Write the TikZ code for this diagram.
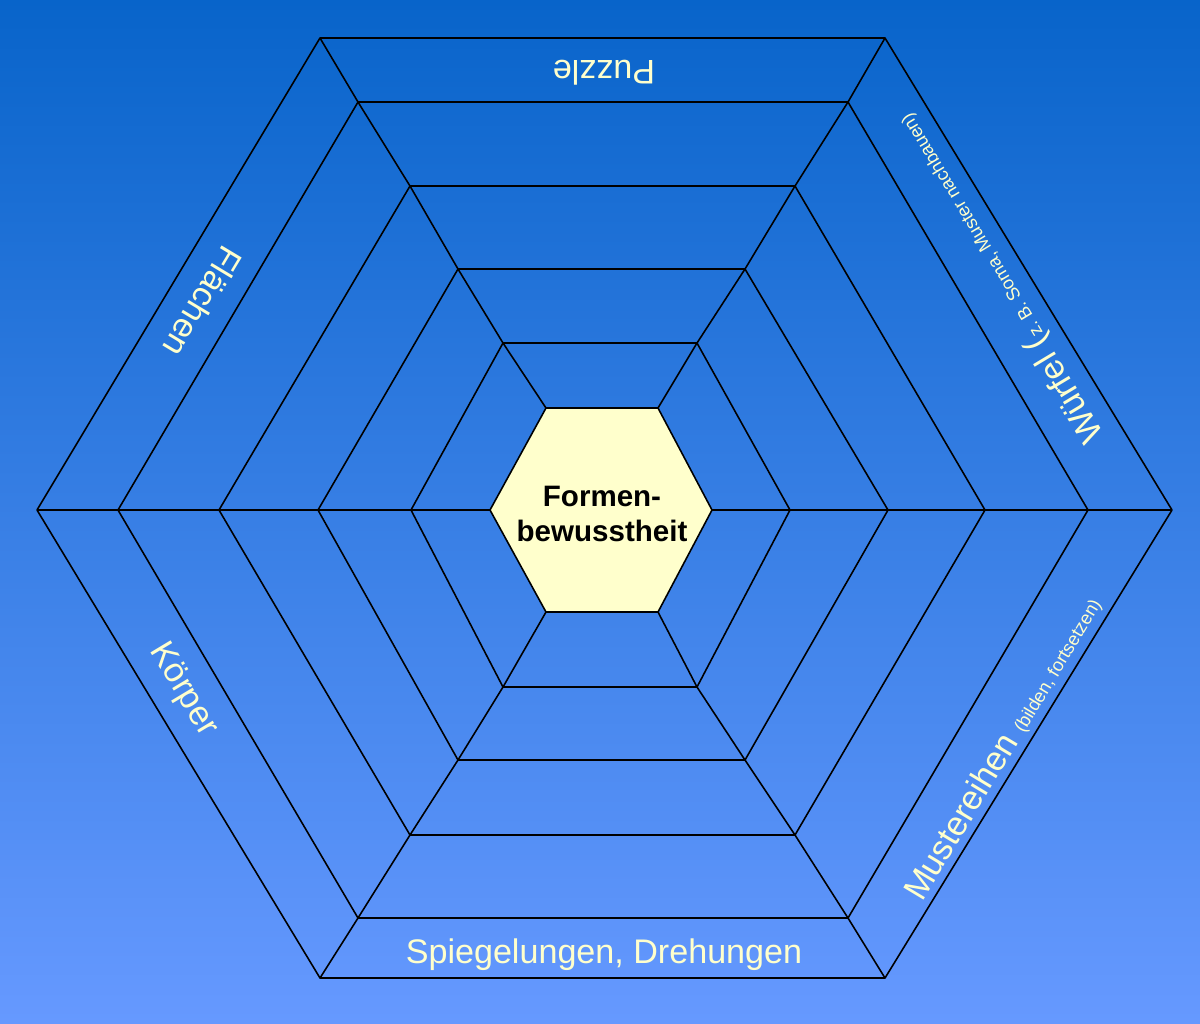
\documentclass[tikz,border=0pt]{standalone}
\usepackage{fontspec}
\setmainfont{Liberation Sans}
\usetikzlibrary{calc}
\definecolor{skytop}{HTML}{0864CA}
\definecolor{skybottom}{HTML}{6699FF}
\definecolor{cream}{HTML}{FFFFCC}
\newcommand{\asidetext}[1]{{\fontsize{5.2}{6}\selectfont #1}}

\begin{document}
\begin{tikzpicture}[x=0.01cm, y=-0.01cm,
    every node/.style={font=\fontsize{9.7}{12}\selectfont, text=cream, inner sep=1pt},
    ring/.style={draw=black, line width=0.45pt, line join=round},
]
% Background
\shade[top color=skytop, bottom color=skybottom] (0,0) rectangle (1200,1023);
\useasboundingbox (0,0) rectangle (1200,1023);

% Ring corners (outer ring 0 to core ring 5)
\foreach \i/\l/\r/\t/\b/\tl/\tr in {0/37/1172/38/978/320/885, 1/118/1088/102/918/358/848,
    2/219/985/186/835/410/795, 3/318/888/269/760/458/745,
    4/411/790/343/687/503/697, 5/490/712/408/612/546/658}{
  \coordinate (L\i) at (\l,510);
  \coordinate (TL\i) at (\tl,\t);
  \coordinate (TR\i) at (\tr,\t);
  \coordinate (R\i) at (\r,510);
  \coordinate (BR\i) at (\tr,\b);
  \coordinate (BL\i) at (\tl,\b);
}

% Rings
\foreach \i in {0,...,4}
  \draw[ring] (L\i) -- (TL\i) -- (TR\i) -- (R\i) -- (BR\i) -- (BL\i) -- cycle;
\draw[ring, fill=cream] (L5) -- (TL5) -- (TR5) -- (R5) -- (BR5) -- (BL5) -- cycle;

% Spokes
\foreach \c in {L,TL,TR,R,BR,BL}
  \draw[ring] (\c0) -- (\c1) -- (\c2) -- (\c3) -- (\c4) -- (\c5);

% Centre
\node[font=\fontsize{8.4}{10}\selectfont\bfseries, text=black, align=center] (core) at (602,514) {Formen-\\bewusstheit};

% Band labels
\node[rotate=180] (puzzle) at (604,73) {Puzzle};
\node (spiegel) at (604,955) {Spiegelungen, Drehungen};
\node[rotate=-121] (flaechen) at (203,302) {Flächen};
\node[rotate=-59] (koerper) at (183,690) {Körper};
\node[rotate=59] (muster) at (1003,748) {Mustereihen \asidetext{(bilden, fortsetzen)}};
\node[rotate=121] (wuerfel) at (1000,278) {Würfel (\asidetext{z.~B. Soma, Muster nachbauen)}};
\end{tikzpicture}
\end{document}
